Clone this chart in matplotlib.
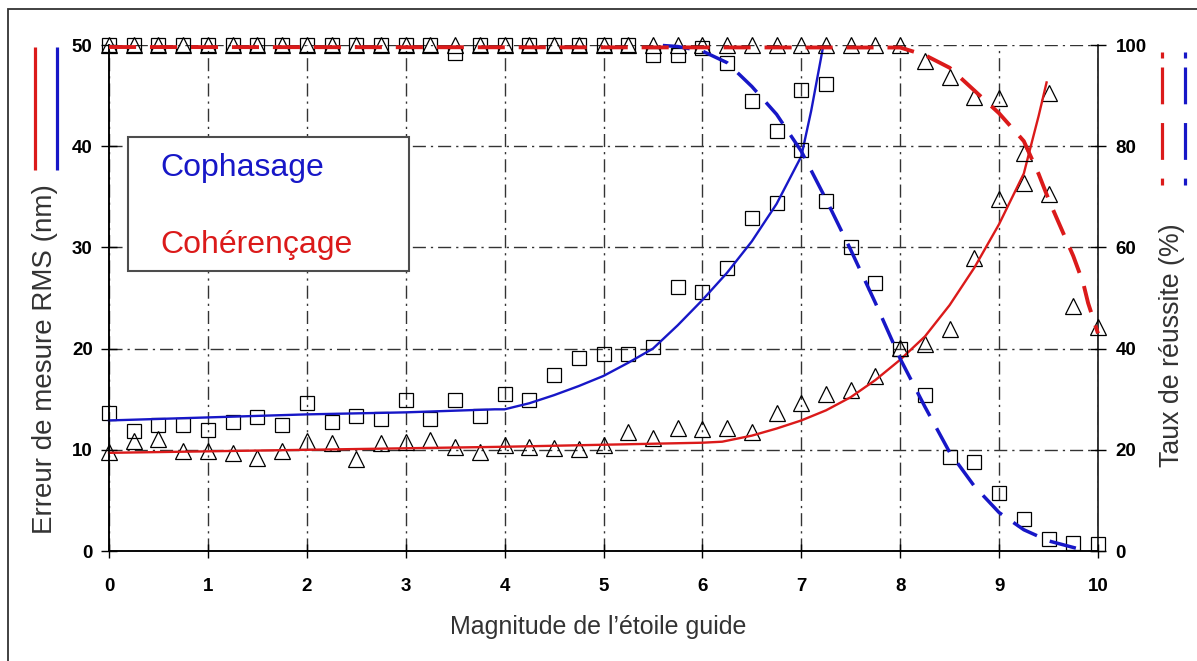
import matplotlib
matplotlib.use("Agg")
import matplotlib.pyplot as plt
from matplotlib.lines import Line2D
from matplotlib.patches import Rectangle

plt.rcParams['font.family'] = ['Liberation Sans', 'DejaVu Sans']
plt.rcParams['lines.scale_dashes'] = False

# ---------------- data ----------------
mag = [0, 0.25, 0.5, 0.75, 1, 1.25, 1.5, 1.75, 2, 2.25, 2.5, 2.75, 3, 3.25, 3.5, 3.75,
       4, 4.25, 4.5, 4.75, 5, 5.25, 5.5, 5.75, 6, 6.25, 6.5, 6.75, 7, 7.25, 7.5, 7.75,
       8, 8.25, 8.5, 8.75, 9, 9.25, 9.5, 9.75, 10]

# RMS error (nm) - Cophasage (squares), magnitudes 0 .. 7.25
err_coph = [13.6, 11.9, 12.5, 12.5, 12.0, 12.7, 13.2, 12.5, 14.6, 12.7, 13.3, 13.0, 14.9, 13.0,
            14.9, 13.3, 15.5, 14.9, 17.4, 19.1, 19.5, 19.5, 20.2, 26.1, 25.6, 28.0, 32.9, 34.4,
            45.6, 46.1]
# RMS error (nm) - Cohérençage (triangles), magnitudes 0 .. 9.5
err_coh = [9.8, 10.9, 11.1, 9.9, 9.9, 9.7, 9.2, 9.9, 10.9, 10.7, 9.1, 10.7, 10.8, 11.0, 10.3,
           9.8, 10.5, 10.3, 10.2, 10.1, 10.5, 11.8, 11.2, 12.2, 12.1, 12.2, 11.8, 13.6, 14.6,
           15.5, 15.9, 17.3, 20.1, 20.5, 21.9, 29.0, 34.8, 36.4, 45.3]
# success rate (%) - Cophasage (squares)
succ_coph = [100, 100, 100, 100, 100, 100, 100, 100, 100, 100, 100, 100, 100, 100, 98.5, 100,
             100, 100, 100, 100, 100, 100, 98.0, 98.0, 99.4, 96.4, 89.0, 83.0, 79.3, 69.2,
             60.1, 53.0, 40.0, 30.8, 18.5, 17.5, 11.4, 6.4, 2.3, 1.5, 1.3]
# success rate (%) - Cohérençage (triangles)
succ_coh = [100, 100, 100, 100, 100, 100, 100, 100, 100, 100, 100, 100, 100, 100, 100, 100,
            100, 100, 100, 100, 100, 100, 100, 100, 100, 100, 100, 100, 100, 100, 100, 100,
            100, 96.9, 93.7, 89.8, 89.6, 78.7, 70.6, 48.4, 44.3]

# fitted curves
fit_err_coph_x = [0, 1, 2, 3, 3.9, 4, 4.25, 4.5, 4.75, 5, 5.25, 5.5, 5.75, 6, 6.25, 6.5,
                  6.75, 7, 7.1, 7.22]
fit_err_coph_y = [12.9, 13.2, 13.5, 13.7, 14.0, 14.0, 14.6, 15.4, 16.3, 17.3, 18.6, 20.0,
                  22.3, 24.8, 27.5, 30.6, 34.3, 39.0, 43.5, 49.8]
fit_err_coh_x = [0, 1, 2, 3, 4, 5, 6, 6.2, 6.5, 6.75, 7, 7.25, 7.5, 7.75, 8, 8.25, 8.5,
                 8.75, 9, 9.25, 9.31, 9.4, 9.48]
fit_err_coh_y = [9.7, 9.85, 10.0, 10.15, 10.3, 10.5, 10.7, 10.8, 11.4, 12.1, 12.9, 13.9,
                 15.2, 16.9, 18.9, 21.2, 24.3, 28.0, 32.3, 37.3, 39.6, 43.0, 46.3]
fit_succ_coph_x = [5.6, 5.75, 6.0, 6.25, 6.5, 6.75, 7.0, 7.25, 7.5, 7.75, 8.0, 8.25, 8.5,
                   8.75, 9.0, 9.25, 9.5, 9.75, 9.87]
fit_succ_coph_y = [99.9, 99.7, 98.8, 96.5, 91.8, 86.3, 79.0, 69.5, 59.5, 49.0, 38.0, 28.5,
                   19.5, 12.8, 7.6, 4.2, 2.0, 0.7, 0.1]
fit_succ_coh_x = [0, 8.0, 8.25, 8.5, 8.75, 9.0, 9.25, 9.4, 9.5, 9.6, 9.75, 9.85, 9.9, 10.0]
fit_succ_coh_y = [99.6, 99.5, 98.0, 95.5, 91.0, 86.5, 81.0, 74.5, 69.5, 65.0, 58.3, 53.0,
                  49.0, 43.0]

x_ticks = [0, 1, 2, 3, 4, 5, 6, 7, 8, 9, 10]
y_ticks_left = [0, 10, 20, 30, 40, 50]
y_ticks_right = [0, 20, 40, 60, 80, 100]

# ---------------- style ----------------
W, H = 1197, 661
BLUE = (0.09, 0.09, 0.78)
RED = (0.86, 0.10, 0.10)
GRID = (0.2, 0.2, 0.2)

def fx(px):
    return px / W

def fy(py):
    return 1 - py / H

fig = plt.figure(figsize=(W / 100, H / 100), dpi=100)
ax = fig.add_axes([fx(109), fy(551), fx(1098) - fx(109), fy(45) - fy(551)])
ax2 = ax.twinx()

ax.set_xlim(0, 10)
ax.set_ylim(0, 50)
ax2.set_ylim(0, 100)

# grid
ax.set_xticks(x_ticks)
ax.set_yticks(y_ticks_left)
ax2.set_yticks(y_ticks_right)
ax.grid(True, color=GRID, lw=1.0, linestyle=(0, (9.4, 3.6, 1.6, 3.6)))

for a in (ax, ax2):
    a.spines['top'].set_visible(False)
    for s in a.spines.values():
        s.set_linewidth(1.1)
ax.spines['right'].set_visible(False)

tick_font = dict(fontsize=13.5, fontweight='bold')
ax.tick_params(axis='y', direction='inout', length=11.5, width=1.0, pad=6)
ax.tick_params(axis='x', direction='inout', length=10, width=1.0, pad=14.5)
ax2.tick_params(axis='y', direction='inout', length=11.5, width=1.0, pad=7)
ax.set_xticklabels([str(t) for t in x_ticks], **tick_font)
ax.set_yticklabels([str(t) for t in y_ticks_left], **tick_font)
ax2.set_yticklabels([str(t) for t in y_ticks_right], **tick_font)

mk = dict(linestyle='none', markerfacecolor='none', markeredgecolor='black',
          markeredgewidth=0.9, clip_on=False)
SQ, TR = 9.8, 11.2

# markers: left axis
ax.plot(mag[:len(err_coph)], err_coph, marker='s', markersize=SQ, zorder=3, **mk)
ax.plot(mag[:len(err_coh)], err_coh, marker='^', markersize=TR, zorder=3, **mk)
# fitted solid lines
ax.plot(fit_err_coph_x, fit_err_coph_y, color=BLUE, lw=1.7, zorder=4, clip_on=False)
ax.plot(fit_err_coh_x, fit_err_coh_y, color=RED, lw=1.7, zorder=4, clip_on=False)

# markers: right axis
ax2.plot(mag, succ_coph, marker='s', markersize=SQ, zorder=3, **mk)
ax2.plot(mag, succ_coh, marker='^', markersize=TR, zorder=3, **mk)
ax2.plot(fit_succ_coph_x, fit_succ_coph_y, color=BLUE, lw=2.5, zorder=4, clip_on=False,
         linestyle=(0, (19.5, 10)))
ax2.plot(fit_succ_coh_x, fit_succ_coh_y, color=RED, lw=2.8, zorder=5, clip_on=False,
         linestyle=(0, (19.5, 10)))

# legend box
box = Rectangle((fx(128), fy(271)), fx(409) - fx(128), fy(137) - fy(271),
                transform=fig.transFigure, facecolor='white', edgecolor=(0.3, 0.3, 0.3),
                lw=1.5, zorder=10)
fig.add_artist(box)
fig.text(fx(160), fy(176.5), 'Cophasage', color=BLUE, fontsize=23, va='baseline',
         ha='left', zorder=11)
fig.text(fx(160), fy(253.5), 'Cohérençage', color=RED, fontsize=23, va='baseline',
         ha='left', zorder=11)

# axis labels
LAB = (0.2, 0.2, 0.2)
fig.text(fx(598), fy(627), "Magnitude de l\u2019étoile guide", fontsize=18,
         ha='center', va='center', color=LAB)
fig.text(fx(45), fy(359), 'Erreur de mesure RMS (nm)', fontsize=20, rotation=90,
         ha='center', va='center', color=LAB)
fig.text(fx(1172), fy(345), 'Taux de réussite (%)', fontsize=19.3, rotation=90,
         ha='center', va='center', color=LAB)

# left-side key lines (solid)
for xp, c in ((35, RED), (57, BLUE)):
    fig.add_artist(Line2D([fx(xp), fx(xp)], [fy(47), fy(170)], color=c, lw=2.3,
                          transform=fig.transFigure, solid_capstyle='butt'))
# right-side key lines (dashed): short dot then dashes
for xp, c in ((1162, RED), (1185, BLUE)):
    fig.add_artist(Line2D([fx(xp), fx(xp)], [fy(52), fy(58)], color=c, lw=2.3,
                          transform=fig.transFigure, solid_capstyle='butt'))
    fig.add_artist(Line2D([fx(xp), fx(xp)], [fy(67), fy(185)], color=c, lw=2.3,
                          transform=fig.transFigure, dash_capstyle='butt',
                          linestyle=(0, (26.5, 13.5))))

# outer frame
fig.add_artist(Rectangle((fx(8), fy(700)), fx(1250) - fx(8), fy(9) - fy(700),
                         transform=fig.transFigure, facecolor='none',
                         edgecolor=(0.2, 0.2, 0.2), lw=1.3))

fig.savefig('out.png', dpi=100)
